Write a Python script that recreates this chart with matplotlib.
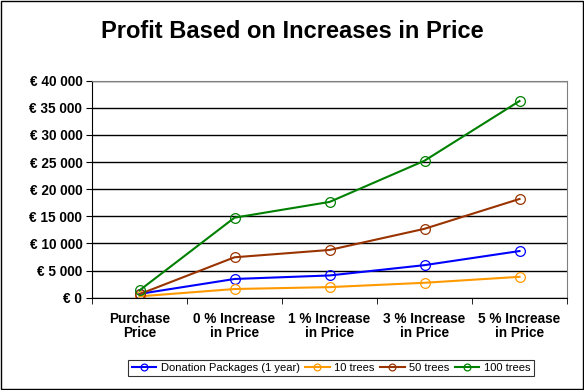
import matplotlib.pyplot as plt
import numpy as np

plt.rcParams['font.family'] = ['Liberation Sans', 'DejaVu Sans']

categories = ['Purchase\nPrice', '0 % Increase\nin Price', '1 % Increase\nin Price',
              '3 % Increase\nin Price', '5 % Increase\nin Price']
donation = [700, 3450, 4100, 6000, 8600]
trees_10 = [250, 1600, 1950, 2750, 3850]
trees_50 = [650, 7450, 8800, 12700, 18200]
trees_100 = [1350, 14750, 17650, 25250, 36250]

series = [
    ('Donation Packages (1 year)', donation, '#0000ff'),
    ('10 trees', trees_10, '#ff9900'),
    ('50 trees', trees_50, '#993300'),
    ('100 trees', trees_100, '#008000'),
]
yticks = list(range(0, 40001, 5000))

fig = plt.figure(figsize=(5.84, 3.9), dpi=100)
fig.patches.append(plt.Rectangle((0.001, 0.002), 0.997, 0.996, transform=fig.transFigure,
                                 fill=False, edgecolor='black', linewidth=1))
ax = fig.add_axes([92 / 584, 1 - 297.7 / 390, 475 / 584, 217 / 390])

x = np.arange(len(categories))
for name, vals, col in series:
    ax.plot(x, vals, color=col, linewidth=1.5, marker='o', markersize=7,
            markerfacecolor='none', markeredgecolor=col, markeredgewidth=0.9, label=name)

ax.set_xlim(-0.5, len(categories) - 0.5)
ax.set_ylim(0, 40000)
ax.set_yticks(yticks)
ax.set_yticklabels(['€ 0' if v == 0 else '€ {:,}'.format(v).replace(',', ' ') for v in yticks],
                   fontsize=9.8, fontweight='bold')
ax.set_xticks(x)
ax.set_xticklabels(categories, fontsize=9.8, fontweight='bold', linespacing=1.05)
ax.set_xticks(np.arange(-0.5, len(categories)), minor=True)
ax.tick_params(axis='x', which='major', length=0, pad=10)
ax.tick_params(axis='x', which='minor', length=4, direction='out', color='black')
ax.tick_params(axis='y', length=4, direction='out', color='black', pad=3)
ax.yaxis.grid(True, color='black', linewidth=1)
ax.set_axisbelow(True)
for s in ['top', 'right']:
    ax.spines[s].set_color('#808080')
for s in ['left', 'bottom']:
    ax.spines[s].set_color('black')

fig.text(0.5, 1 - 32 / 390, 'Profit Based on Increases in Price', ha='center', va='center',
         fontsize=17, fontweight='bold')

leg = fig.legend(loc='center', bbox_to_anchor=(331 / 584, 1 - 368 / 390), ncol=4,
                 fontsize=8, frameon=True, fancybox=False, edgecolor='black',
                 handlelength=2.2, handletextpad=0.4, columnspacing=0.5,
                 borderpad=0.3, markerscale=0.7)
leg.get_frame().set_linewidth(0.8)

fig.savefig('out.png', dpi=100)
